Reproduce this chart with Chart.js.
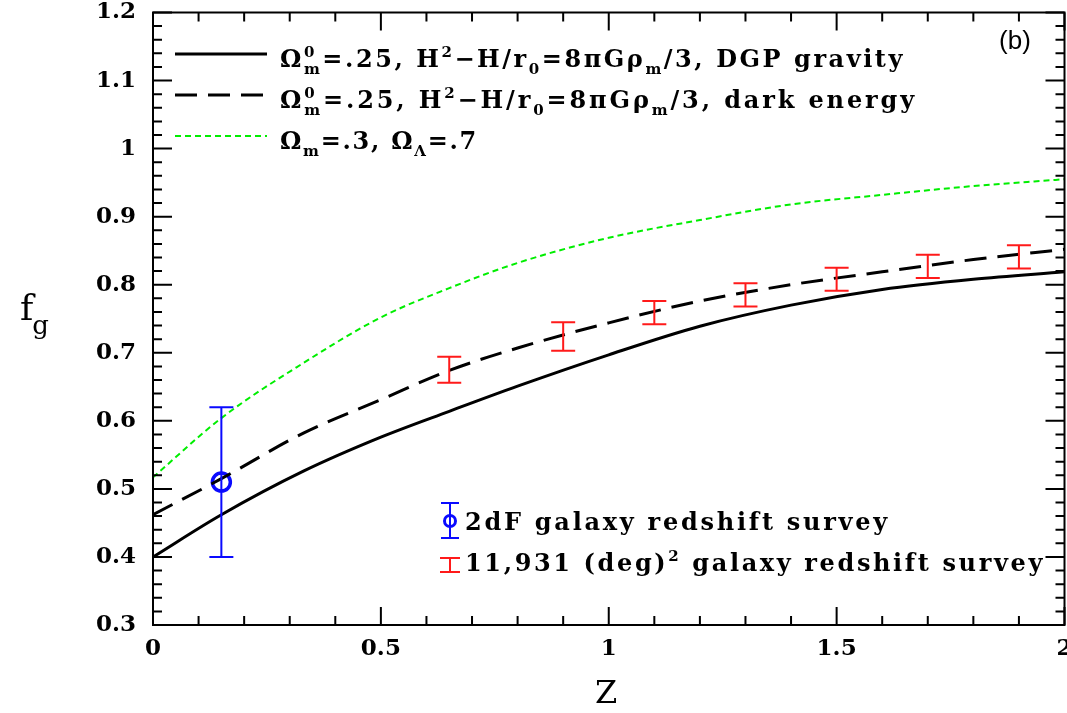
<!DOCTYPE html>
<html>
<head>
<meta charset="utf-8">
<title>f_g x z</title>
<script src="https://cdn.jsdelivr.net/npm/chart.js@4.4.1/dist/chart.umd.min.js"></script>
<style>
  html, body { margin: 0; padding: 0; background: #fff; overflow: hidden; }
  canvas { display: block; }
</style>
</head>
<body>
<canvas id="grafico" width="1077" height="713"></canvas>
<script>
// ===== DADOS =====
const zCurva       = [0,     0.15,  0.33,  0.5,   0.65,  0.8,   1.0,   1.2,   1.4,   1.6,   1.8,   2.0];
const fgDGP        = [0.400, 0.462, 0.526, 0.576, 0.614, 0.651, 0.697, 0.739, 0.770, 0.793, 0.808, 0.819];
const fgDarkEnergy = [0.462, 0.515, 0.582, 0.631, 0.674, 0.707, 0.744, 0.776, 0.800, 0.819, 0.837, 0.852];
const fgLCDM       = [0.517, 0.604, 0.685, 0.752, 0.795, 0.832, 0.869, 0.895, 0.918, 0.932, 0.945, 0.955];

const zSurvey   = [0.65, 0.9, 1.1, 1.3, 1.5, 1.7, 1.9];
const fgSurvey  = [0.675, 0.724, 0.759, 0.785, 0.808, 0.827, 0.841];
const errSurvey = [0.019, 0.021, 0.017, 0.017, 0.017, 0.017, 0.017];

const z2dF   = [0.15];
const fg2dF  = [0.51];
const err2dF = [0.11];

const xTicks = [0, 0.5, 1, 1.5, 2];
const yTicks = [0.3, 0.4, 0.5, 0.6, 0.7, 0.8, 0.9, 1.0, 1.1, 1.2];
const xMenor = 0.1;   // passo dos ticks menores
const yMenor = 0.02;

// ===== TEXTOS =====
const rotuloDGP = ['Ω', { sup: '0', sub: 'm' }, '=.25, H', { sup: '2' }, '−H/r', { sub: '0' }, '=8πGρ', { sub: 'm' }, '/3, DGP gravity'];
const rotuloDE  = ['Ω', { sup: '0', sub: 'm' }, '=.25, H', { sup: '2' }, '−H/r', { sub: '0' }, '=8πGρ', { sub: 'm' }, '/3, dark energy'];
const rotuloLCDM = ['Ω', { sub: 'm' }, '=.3, Ω', { sub: 'Λ' }, '=.7'];
const rotulo2dF = ['2dF galaxy redshift survey'];
const rotuloSurvey = ['11,931 (deg)', { sup: '2' }, ' galaxy redshift survey'];

const corVerde = '#00ee00';
const corAzul = '#0a0aff';
const corVermelho = '#ff1a1a';
const FONTE = '"DejaVu Serif", serif';

const pontos = (xs, ys) => xs.map((x, i) => ({ x: x, y: ys[i] }));

// ===== TEXTO COM SOBRESCRITO / SUBSCRITO =====
function desenharRico(ctx, partes, x, y, tam, esp, pintar) {
  const fonteN = `bold ${tam}px ${FONTE}`;
  const fonteP = `bold ${Math.round(tam * 0.62)}px ${FONTE}`;
  ctx.letterSpacing = esp + 'px';
  let cx = x;
  partes.forEach(p => {
    if (typeof p === 'string') {
      ctx.font = fonteN;
      if (pintar) ctx.fillText(p, cx, y);
      cx += ctx.measureText(p).width;
    } else {
      ctx.font = fonteP;
      let w = 0;
      if (p.sup) {
        if (pintar) ctx.fillText(p.sup, cx, y - tam * 0.42);
        w = Math.max(w, ctx.measureText(p.sup).width);
      }
      if (p.sub) {
        if (pintar) ctx.fillText(p.sub, cx, y + tam * 0.3);
        w = Math.max(w, ctx.measureText(p.sub).width);
      }
      cx += w;
    }
  });
  ctx.letterSpacing = '0px';
  return cx - x;
}

function textoAjustado(ctx, partes, x, y, tam, largura) {
  const n = partes.reduce((s, p) => s + (typeof p === 'string' ? p.length : Math.max((p.sup || '').length, (p.sub || '').length)), 0);
  const w0 = desenharRico(ctx, partes, 0, 0, tam, 0, false);
  const esp = Math.max(0, (largura - w0) / n);
  desenharRico(ctx, partes, x, y, tam, esp, true);
}

// ===== PLUGIN: MOLDURA E TICKS =====
const molduraPlugin = {
  id: 'moldura',
  afterDatasetsDraw(chart) {
    const ctx = chart.ctx;
    const { left, right, top, bottom } = chart.chartArea;
    const sx = chart.scales.x, sy = chart.scales.y;
    ctx.save();
    ctx.strokeStyle = '#000';
    ctx.lineWidth = 2;
    ctx.setLineDash([]);
    ctx.strokeRect(left, top, right - left, bottom - top);

    ctx.beginPath();
    const nX = Math.round((sx.max - sx.min) / xMenor);
    for (let i = 0; i <= nX; i++) {
      const px = sx.getPixelForValue(sx.min + i * xMenor);
      const len = i % 5 === 0 ? 18 : 9;
      ctx.moveTo(px, bottom); ctx.lineTo(px, bottom - len);
      ctx.moveTo(px, top); ctx.lineTo(px, top + len);
    }
    const nY = Math.round((sy.max - sy.min) / yMenor);
    for (let i = 0; i <= nY; i++) {
      const py = sy.getPixelForValue(sy.min + i * yMenor);
      const len = i % 5 === 0 ? 19 : 9;
      ctx.moveTo(left, py); ctx.lineTo(left + len, py);
      ctx.moveTo(right, py); ctx.lineTo(right - len, py);
    }
    ctx.stroke();
    ctx.restore();
  }
};

// ===== PLUGIN: BARRAS DE ERRO =====
const errosPlugin = {
  id: 'barrasErro',
  afterDatasetsDraw(chart) {
    const ctx = chart.ctx;
    const sx = chart.scales.x, sy = chart.scales.y;
    ctx.save();
    chart.data.datasets.forEach(ds => {
      if (!ds.erros) return;
      ctx.strokeStyle = ds.corErro;
      ctx.lineWidth = 2;
      ctx.setLineDash([]);
      ds.data.forEach((p, j) => {
        const px = sx.getPixelForValue(p.x);
        const y1 = sy.getPixelForValue(p.y + ds.erros[j]);
        const y2 = sy.getPixelForValue(p.y - ds.erros[j]);
        ctx.beginPath();
        ctx.moveTo(px, y1); ctx.lineTo(px, y2);
        ctx.moveTo(px - 12, y1); ctx.lineTo(px + 12, y1);
        ctx.moveTo(px - 12, y2); ctx.lineTo(px + 12, y2);
        ctx.stroke();
      });
    });
    ctx.restore();
  }
};

// ===== PLUGIN: LEGENDA E TÍTULOS =====
const legendaPlugin = {
  id: 'legendaCustom',
  afterDraw(chart) {
    const ctx = chart.ctx;
    ctx.save();
    ctx.fillStyle = '#000';
    ctx.textBaseline = 'alphabetic';
    ctx.textAlign = 'left';

    // legenda superior
    const linhas = [
      { y: 54, cor: '#000', dash: [], larg: 3, txt: rotuloDGP, w: 625 },
      { y: 95, cor: '#000', dash: [22, 11], larg: 3, txt: rotuloDE, w: 637 },
      { y: 136, cor: corVerde, dash: [6, 4], larg: 2, txt: rotuloLCDM, w: 198 }
    ];
    linhas.forEach(l => {
      ctx.strokeStyle = l.cor;
      ctx.lineWidth = l.larg;
      ctx.setLineDash(l.dash);
      ctx.beginPath();
      ctx.moveTo(175, l.y); ctx.lineTo(267, l.y);
      ctx.stroke();
      ctx.setLineDash([]);
      textoAjustado(ctx, l.txt, 280, l.y + 13, 24, l.w);
    });

    // legenda inferior (símbolos de erro)
    ctx.lineWidth = 2;
    ctx.strokeStyle = corAzul;
    ctx.beginPath();
    ctx.moveTo(450, 503); ctx.lineTo(450, 538);
    ctx.moveTo(441, 503); ctx.lineTo(459, 503);
    ctx.moveTo(441, 538); ctx.lineTo(459, 538);
    ctx.stroke();
    ctx.lineWidth = 3;
    ctx.beginPath();
    ctx.arc(450, 521, 5.5, 0, Math.PI * 2);
    ctx.stroke();

    ctx.lineWidth = 2;
    ctx.strokeStyle = corVermelho;
    ctx.beginPath();
    ctx.moveTo(450, 558); ctx.lineTo(450, 572);
    ctx.moveTo(440, 558); ctx.lineTo(460, 558);
    ctx.moveTo(440, 572); ctx.lineTo(460, 572);
    ctx.stroke();

    ctx.fillStyle = '#000';
    textoAjustado(ctx, rotulo2dF, 465, 530, 24, 425);
    textoAjustado(ctx, rotuloSurvey, 465, 571, 24, 580);

    // (b)
    ctx.font = '26px "Liberation Sans", sans-serif';
    ctx.textAlign = 'center';
    ctx.textBaseline = 'middle';
    ctx.fillText('(b)', 1015, 42);

    // título eixo x
    ctx.font = `32px ${FONTE}`;
    ctx.textBaseline = 'alphabetic';
    ctx.fillText('Z', 606, 703);

    // título eixo y: f_g
    ctx.textAlign = 'left';
    ctx.font = `36px ${FONTE}`;
    ctx.fillText('f', 20, 320);
    const wf = ctx.measureText('f').width;
    ctx.font = `26px ${FONTE}`;
    ctx.fillText('g', 20 + wf - 1, 334);
    ctx.restore();
  }
};

// ===== GRÁFICO =====
const ctxG = document.getElementById('grafico').getContext('2d');
new Chart(ctxG, {
  type: 'line',
  data: {
    datasets: [
      {
        label: 'DGP gravity',
        data: pontos(zCurva, fgDGP),
        borderColor: '#000',
        borderWidth: 3,
        pointRadius: 0,
        cubicInterpolationMode: 'monotone'
      },
      {
        label: 'dark energy',
        data: pontos(zCurva, fgDarkEnergy),
        borderColor: '#000',
        borderWidth: 3,
        borderDash: [22, 11],
        pointRadius: 0,
        cubicInterpolationMode: 'monotone'
      },
      {
        label: 'LCDM',
        data: pontos(zCurva, fgLCDM),
        borderColor: corVerde,
        borderWidth: 2,
        borderDash: [6, 4],
        pointRadius: 0,
        cubicInterpolationMode: 'monotone'
      },
      {
        label: '11,931 (deg)2 galaxy redshift survey',
        data: pontos(zSurvey, fgSurvey),
        erros: errSurvey,
        corErro: corVermelho,
        showLine: false,
        pointRadius: 0
      },
      {
        label: '2dF galaxy redshift survey',
        data: pontos(z2dF, fg2dF),
        erros: err2dF,
        corErro: corAzul,
        showLine: false,
        pointStyle: 'circle',
        pointRadius: 9,
        pointBorderWidth: 3.5,
        pointBorderColor: corAzul,
        pointBackgroundColor: 'rgba(0,0,0,0)'
      }
    ]
  },
  options: {
    responsive: false,
    animation: false,
    devicePixelRatio: 1,
    layout: { padding: { top: 12, right: 8, left: 0, bottom: 0 } },
    plugins: {
      legend: { display: false },
      tooltip: { enabled: false }
    },
    scales: {
      x: {
        type: 'linear',
        min: 0,
        max: 2,
        afterBuildTicks: s => { s.ticks = xTicks.map(v => ({ value: v })); },
        afterFit: s => { s.height = 88; s.paddingLeft = 0; s.paddingRight = 0; },
        ticks: {
          color: '#000',
          padding: 10,
          maxRotation: 0,
          font: { family: FONTE, size: 23, weight: 'bold' },
          callback: v => String(v)
        },
        grid: { display: false, drawTicks: false },
        border: { display: false }
      },
      y: {
        type: 'linear',
        min: 0.3,
        max: 1.2,
        afterBuildTicks: s => { s.ticks = yTicks.map(v => ({ value: v })); },
        afterFit: s => { s.width = 153; s.paddingTop = 0; s.paddingBottom = 0; },
        ticks: {
          color: '#000',
          padding: 17,
          font: { family: FONTE, size: 23, weight: 'bold' },
          callback: v => String(Math.round(v * 10) / 10)
        },
        grid: { display: false, drawTicks: false },
        border: { display: false }
      }
    }
  },
  plugins: [errosPlugin, molduraPlugin, legendaPlugin]
});
</script>
</body>
</html>
